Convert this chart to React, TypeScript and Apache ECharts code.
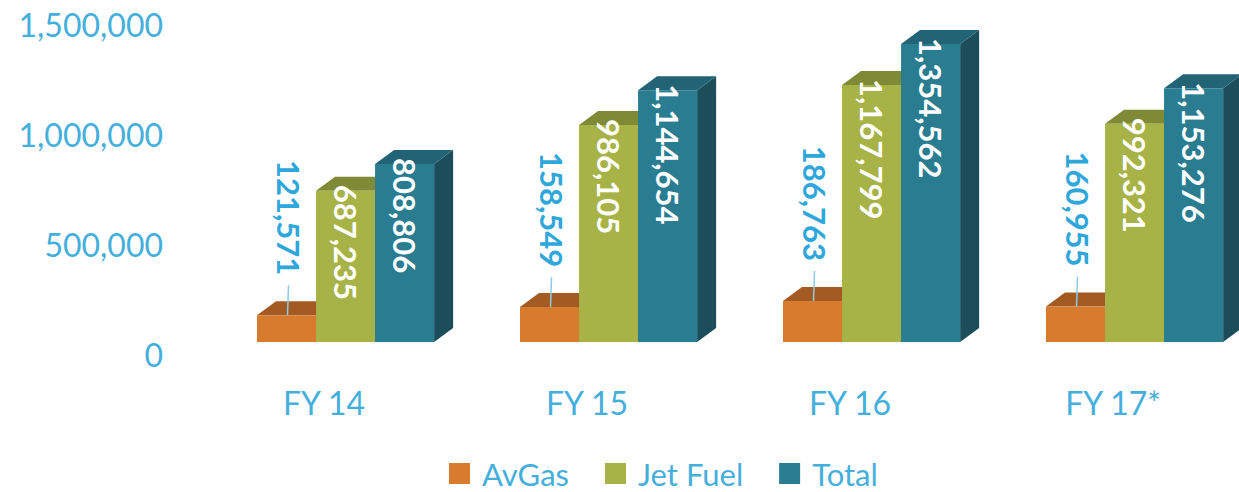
import React, { useEffect, useRef } from "react";
import * as echarts from "echarts";

const categories = ["FY 14", "FY 15", "FY 16", "FY 17*"];
const avgas = [121571, 158549, 186763, 160955];
const jetFuel = [687235, 986105, 1167799, 992321];
const total = [808806, 1144654, 1354562, 1153276];
const seriesNames = ["AvGas", "Jet Fuel", "Total"];
const yMax = 1500000;
const yInterval = 500000;

const FONT = "Lato, 'Open Sans', sans-serif";
const AXIS_BLUE = "#45AFDC";
const LABEL_BLUE = "#2FA7DA";

const palettes = [
  { front: "#D77B2E", top: "#A35B23", side: "#8A4C1D" },
  { front: "#A7B247", top: "#7F8A36", side: "#6B752D" },
  { front: "#2A7D91", top: "#226475", side: "#1C4D5A" },
];

const fmt = (v: number) => v.toLocaleString("en-US");

function makeRenderItem(pos: number) {
  return (params: any, api: any) => {
    const idx = api.value(0);
    const val = api.value(1);
    const c0 = api.coord([idx, 0]);
    const cv = api.coord([idx, val]);
    const band = api.coord([1, 0])[0] - api.coord([0, 0])[0];
    const w = band * 0.2245;
    const left = c0[0] - band * 0.2548 + pos * w;
    const lift = 12;
    const dx = 19;
    const dy = 14;
    const yb = c0[1] - lift;
    const yt = cv[1] - lift;
    const pal = palettes[pos];
    const children: any[] = [
      {
        type: "polygon",
        shape: {
          points: [
            [left + w, yt],
            [left + w + dx, yt - dy],
            [left + w + dx, yb - dy],
            [left + w, yb],
          ],
        },
        style: { fill: pal.side },
      },
      {
        type: "polygon",
        shape: {
          points: [
            [left, yt],
            [left + w, yt],
            [left + w + dx, yt - dy],
            [left + dx, yt - dy],
          ],
        },
        style: { fill: pal.top },
      },
      {
        type: "rect",
        shape: { x: left, y: yt, width: w, height: yb - yt },
        style: { fill: pal.front },
      },
    ];
    const cx = left + w / 2;
    if (pos === 0) {
      children.push({
        type: "line",
        shape: { x1: cx + 2, y1: yt - 30, x2: cx + 1, y2: yt },
        style: { stroke: "#8CCBE6", lineWidth: 1.5 },
      });
      children.push({
        type: "text",
        x: cx + 2,
        y: yt - 40,
        rotation: -Math.PI / 2,
        style: {
          text: fmt(val),
          fill: LABEL_BLUE,
          font: `bold 31px ${FONT}`,
          textAlign: "right",
          textVerticalAlign: "middle",
        },
      });
    } else {
      children.push({
        type: "text",
        x: cx,
        y: yt - 6,
        rotation: -Math.PI / 2,
        style: {
          text: fmt(val),
          fill: "#FFFFFF",
          font: `bold 31px ${FONT}`,
          textAlign: "left",
          textVerticalAlign: "middle",
        },
      });
    }
    return { type: "group", children };
  };
}

export default function App() {
  const ref = useRef<HTMLDivElement>(null);
  useEffect(() => {
    if (!ref.current) return;
    const chart = echarts.init(ref.current, null, { renderer: "svg" });
    const seriesData = [avgas, jetFuel, total];
    chart.setOption({
      animation: false,
      backgroundColor: "#FFFFFF",
      grid: { left: 324, right: 126, top: 24, bottom: 138, containLabel: false },
      legend: {
        data: seriesNames,
        left: 449,
        top: 458,
        padding: 0,
        icon: "rect",
        itemWidth: 21,
        itemHeight: 21,
        itemGap: 35,
        formatter: (n: string) => " " + n,
        textStyle: {
          color: AXIS_BLUE,
          fontSize: 31,
          fontFamily: FONT,
          lineHeight: 30,
        },
      },
      xAxis: {
        type: "category",
        data: categories,
        boundaryGap: false,
        axisLine: { show: false },
        axisTick: { show: false },
        axisLabel: {
          color: AXIS_BLUE,
          fontSize: 32,
          fontFamily: FONT,
          margin: 32,
        },
      },
      yAxis: {
        type: "value",
        min: 0,
        max: yMax,
        interval: yInterval,
        offset: 153,
        axisLine: { show: false },
        axisTick: { show: false },
        splitLine: { show: false },
        axisLabel: {
          color: AXIS_BLUE,
          fontSize: 32,
          fontFamily: FONT,
          margin: 8,
          formatter: (v: number) => fmt(v),
        },
      },
      series: seriesData.map((arr, pos) => ({
        type: "custom",
        name: seriesNames[pos],
        itemStyle: { color: palettes[pos].front },
        renderItem: makeRenderItem(pos),
        encode: { x: 0, y: 1 },
        data: arr.map((v, i) => [i, v]),
        clip: false,
      })),
    });
    return () => chart.dispose();
  }, []);
  return (
    <div
      ref={ref}
      style={{ position: "fixed", left: 0, top: 0, width: 1239, height: 492 }}
    />
  );
}
